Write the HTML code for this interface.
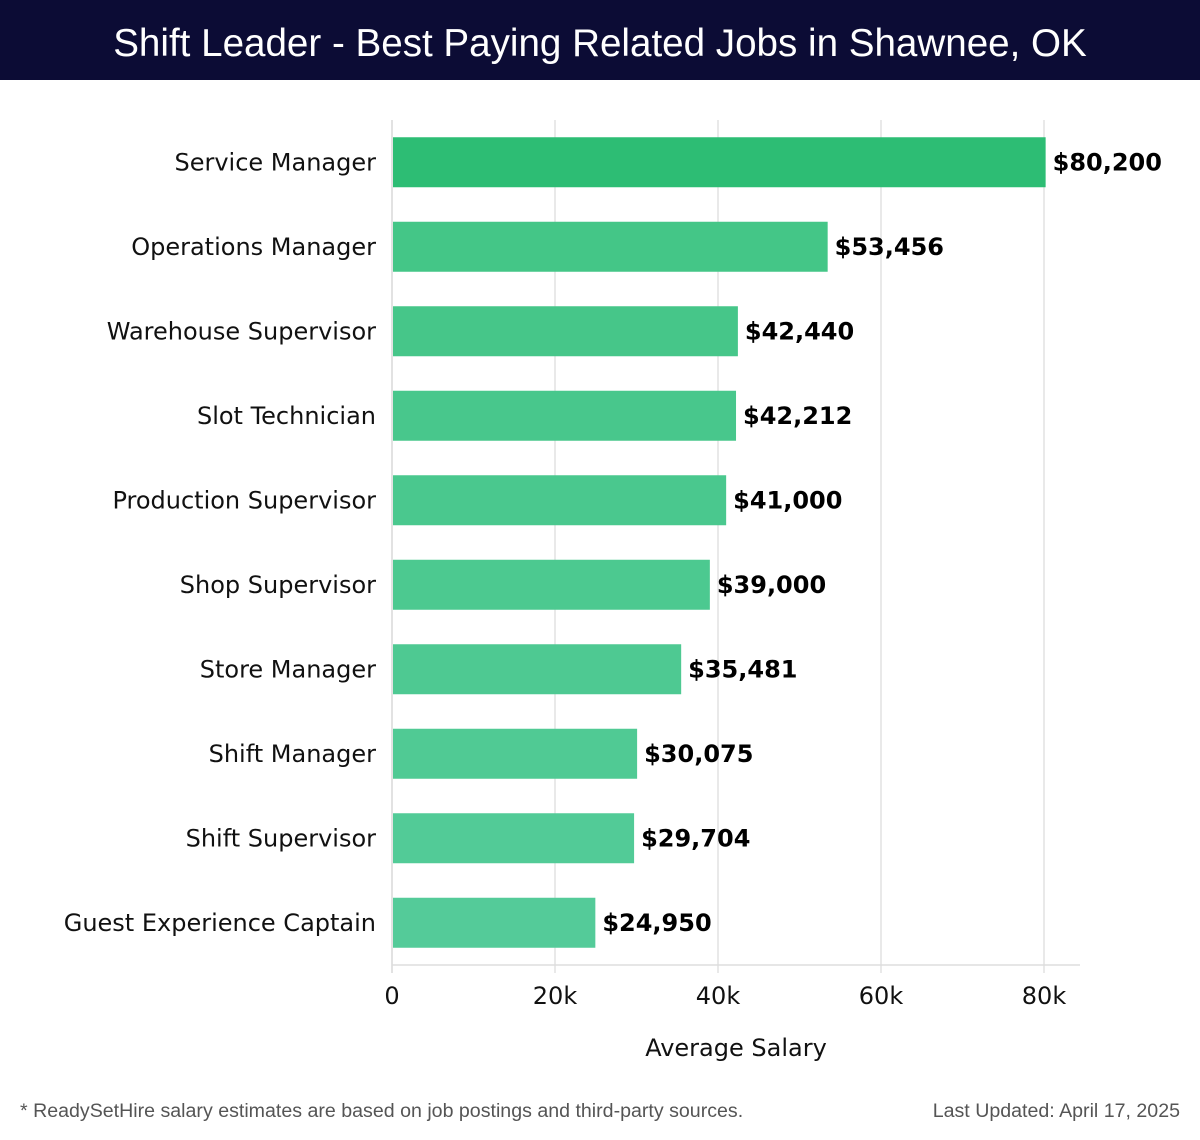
<!DOCTYPE html>
<html><head><meta charset="utf-8"><style>
body{margin:0;width:1200px;height:1140px;background:#fff;font-family:"Liberation Sans","DejaVu Sans",sans-serif;overflow:hidden}
#title{position:absolute;left:0;top:0;width:1200px;height:80px;background:#0c0c35;color:#fff;font-size:38.6px;text-align:center;line-height:88px;font-weight:300}
.foot{position:absolute;top:1100px;font-size:19.6px;color:#555}
svg text{font-family:"DejaVu Sans",sans-serif}
</style></head><body>
<div id="title">Shift Leader - Best Paying Related Jobs in Shawnee, OK</div>
<svg id="chart" width="1200" height="1140" style="position:absolute;left:0;top:0"></svg>
<div class="foot" style="left:20px">* ReadySetHire salary estimates are based on job postings and third-party sources.</div>
<div class="foot" style="right:20px">Last Updated: April 17, 2025</div>
<script>
const categories=["Service Manager","Operations Manager","Warehouse Supervisor","Slot Technician","Production Supervisor","Shop Supervisor","Store Manager","Shift Manager","Shift Supervisor","Guest Experience Captain"];
const values=[80200,53456,42440,42212,41000,39000,35481,30075,29704,24950];
const labels=["$80,200","$53,456","$42,440","$42,212","$41,000","$39,000","$35,481","$30,075","$29,704","$24,950"];
const ticks=[0,20000,40000,60000,80000];
const tickLabels=["0","20k","40k","60k","80k"];
const NS="http://www.w3.org/2000/svg";
const svg=document.getElementById('chart');
const x0=392,pxPer=163/20000,top0=120,bottom=965,band=(bottom-top0)/categories.length;
const X=v=>x0+v*pxPer;
const Y=i=>top0+band*i+band/2;
function mk(t,a){const e=document.createElementNS(NS,t);for(const k in a)e.setAttribute(k,a[k]);svg.appendChild(e);return e;}
ticks.forEach((t,i)=>{
 const g=mk('line',{x1:X(t),x2:X(t),y1:top0,y2:bottom+8,stroke:'#e2e2e2','stroke-width':1.5});
 
 
 const tx=mk('text',{x:X(t),y:1004,'text-anchor':'middle','font-size':24,fill:'#111'});
 tx.textContent=tickLabels[i];
 
 
});
const ax=mk('line',{x1:x0,x2:1080,y1:bottom,y2:bottom,stroke:'#ddd','stroke-width':1.5});


const ay=mk('line',{x1:x0,x2:x0,y1:top0,y2:bottom+8,stroke:'#ddd','stroke-width':1.5});


categories.forEach((c,i)=>{
 const y=Y(i);
 const col=i===0?'#2dbd74':`rgb(${66+i*2},${197+i*0.7},${133+i*2.2})`;
 const r=mk('rect',{x:x0+1,y:y-25,width:X(values[i])-x0-1,height:50,fill:col});
 
 
 const l=mk('text',{x:376,y:y+8,'text-anchor':'end','font-size':24,fill:'#111'});
 l.textContent=c;
 
 
 const v=mk('text',{x:X(values[i])+7,y:y+8,'font-size':24,'font-weight':'bold',fill:'#000'});
 v.textContent=labels[i];
 
 
});
const at=mk('text',{x:736,y:1056,'text-anchor':'middle','font-size':24,fill:'#111'});
at.textContent='Average Salary';


</script>
</body></html>
